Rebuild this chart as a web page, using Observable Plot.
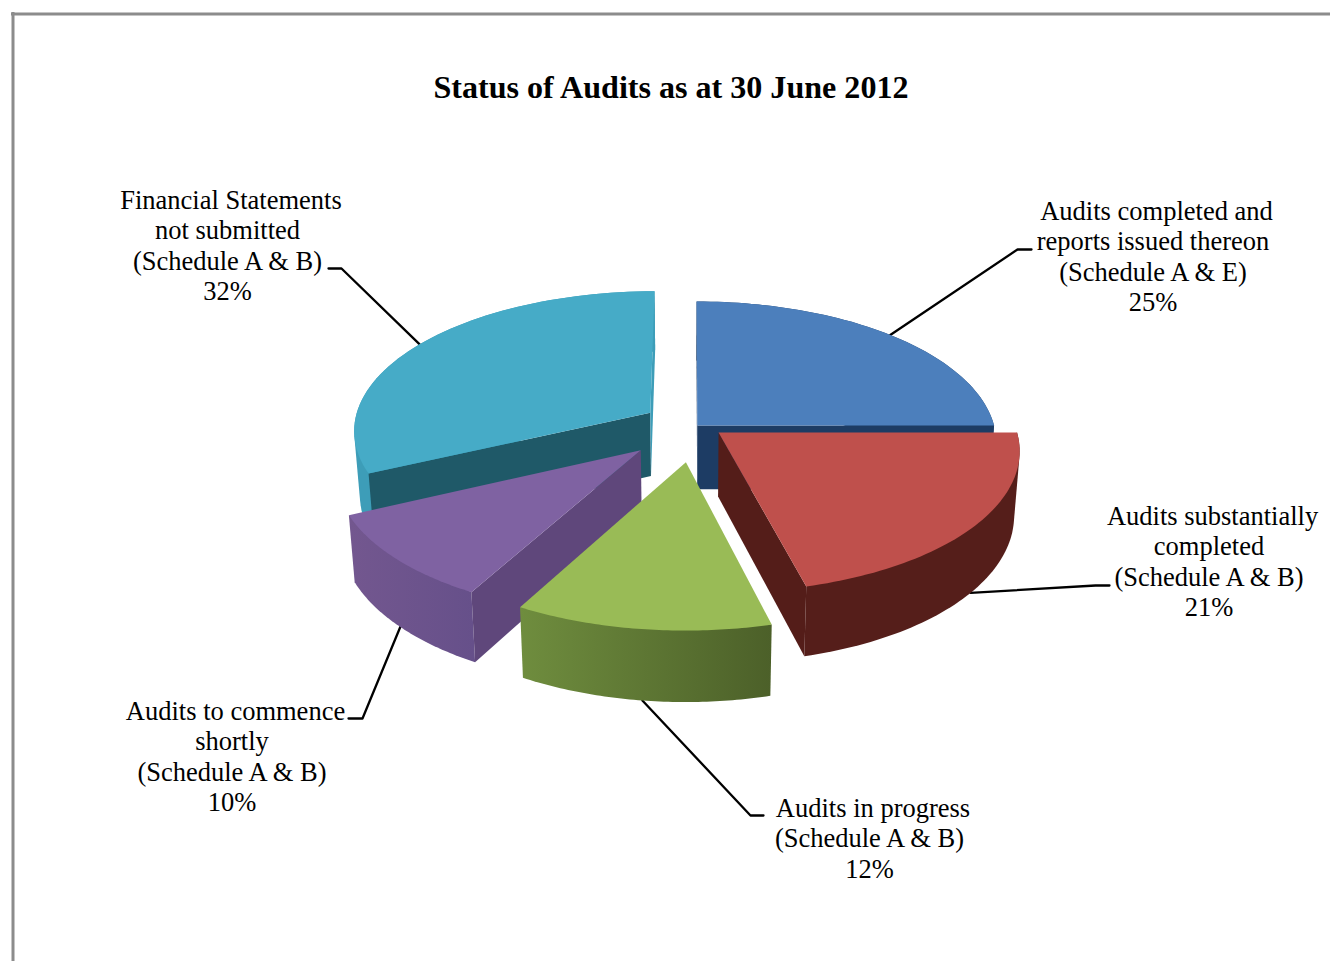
<!DOCTYPE html>
<html>
<head>
<meta charset="utf-8">
<title>Status of Audits</title>
<script src="https://cdn.jsdelivr.net/npm/d3@7"></script>
<script src="https://cdn.jsdelivr.net/npm/@observablehq/plot@0.6"></script>
<style>
  html, body { margin: 0; padding: 0; background: #fff; }
  svg { display: block; }
</style>
</head>
<body>
<div id="chart"></div>
<script>
// Audit status shares, in percent, clockwise from twelve o'clock.
const categories = ["completed", "substantial", "progress", "commence", "notSubmitted"];
const shares = [25, 21, 12, 10, 32];
const labelLines = [
  ["Audits completed and", "reports issued thereon", "(Schedule A & E)", "25%"],
  ["Audits substantially", "completed", "(Schedule A & B)", "21%"],
  ["Audits in progress", "(Schedule A & B)", "12%"],
  ["Audits to commence", "shortly", "(Schedule A & B)", "10%"],
  ["Financial Statements", "not submitted", "(Schedule A & B)", "32%"]
];
const title = "Status of Audits as at 30 June 2012";

// Face colours of each slice.
const topColours = ["#4c7fbc", "#bf504c", "#99bb56", "#7f62a2", "#46abc7"];
const rimColours = ["#1f4069", "#551e1a", "url(#rimGreen)", "url(#rimPurple)", "#3d9db8"];
const cutColours = ["#1d3c64", "#541d19", "#5a7331", "#5f477b", "#1f5968"];

// Layout of the tilted pie: how far each slice is pulled out on the pie's plane,
// in radii, then where its text and leader sit on the page.
const pullX = [0.023, 0.094, -0.015, -0.164, -0.137];
const pullY = [-0.036, 0.014, 0.22, 0.138, -0.129];
const labelCentre = [[1152.5, 210.7], [1208.5, 515.7], [869, 807.7], [231.5, 710.7], [227, 199.7]];
const leaderElbow = [[1017, 249, 1031], [1095, 585, 1109], [750, 815, 763], [362, 718, 348], [341, 268, 328]];

const lineHeight = 30.5;
const pie = {cx: 690, cy: 430, rx: 298, ry: 140, depth: 65, perspective: 0.12, shrink: 0.017};

// Perspective projection of a point on the pie's plane (z 0 = top face, z 1 = underside).
function project(X, Y, z) {
  const f = (1 / (1 - pie.perspective * Y)) * (1 - pie.shrink * z);
  return {x: pie.cx + pie.rx * X * f, y: pie.cy + (pie.ry * Y + pie.depth * z) * f};
}

const toRad = (deg) => (deg * Math.PI) / 180;
const total = d3.sum(shares);
const edges = [0, ...d3.cumsum(shares).map((c) => (c / total) * 360)];

function rimPoint(i, deg, z) {
  const a = toRad(deg);
  return project(pullX[i] + Math.sin(a), pullY[i] - Math.cos(a), z);
}
const apex = (i, z) => project(pullX[i], pullY[i], z);
const arc = (i, z) => d3.range(61).map((k) => rimPoint(i, edges[i] + ((edges[i + 1] - edges[i]) * k) / 60, z));
const asPair = (p) => [p.x, p.y];

// Each slice: the outer wall, whichever cut faces show past the top, then the top face.
function sliceMarks(i) {
  const face = (points, fill) => Plot.line([...points, points[0]], {x: "x", y: "y", fill, stroke: "none"});
  const topFace = [apex(i, 0), ...arc(i, 0)];
  const topOutline = topFace.map(asPair);

  // The hull of both arcs keeps the wall's true silhouette where they cross on screen.
  const rimOutline = d3.polygonHull([...arc(i, 0), ...arc(i, 1)].map(asPair)).map(([x, y]) => ({x, y}));

  // A cut face is seen only if its lower edge falls outside the top face.
  const cuts = [edges[i], edges[i + 1]]
    .map((deg) => ({deg, lowerMid: [(apex(i, 1).x + rimPoint(i, deg, 1).x) / 2, (apex(i, 1).y + rimPoint(i, deg, 1).y) / 2]}))
    .filter((c) => !d3.polygonContains(topOutline, c.lowerMid))
    .map((c) => face([apex(i, 0), rimPoint(i, c.deg, 0), rimPoint(i, c.deg, 1), apex(i, 1)],
      c.deg === 360 ? rimColours[i] : cutColours[i]));

  return [face(rimOutline, rimColours[i]), ...cuts, face(topFace, topColours[i])];
}

// Leader: from the middle of the slice's rim to an elbow, then a short run to the text.
function leaderMark(i) {
  const mid = (edges[i] + edges[i + 1]) / 2;
  const onBack = Math.cos(toRad(mid)) > 0;
  const start = rimPoint(i, mid, onBack ? 0 : 1);
  const [ex, ey, endX] = leaderElbow[i];
  return Plot.line([start, {x: ex, y: ey}, {x: endX, y: ey}], {x: "x", y: "y", stroke: "#000", strokeWidth: 2.3});
}

const textRows = labelLines.flatMap((lines, i) =>
  lines.map((text, n) => ({
    text,
    // the first line of each label sits a little to the right of the rest
    x: labelCentre[i][0] + (n === 0 ? 3.5 : 0),
    y: labelCentre[i][1] + n * lineHeight
  }))
);

// Side-lit walls shade from left to right.
function gradientDefs() {
  const defs = d3.create("svg:defs");
  const add = (id, from, to) => {
    const g = defs.append("linearGradient").attr("id", id).attr("x1", 0).attr("x2", 1).attr("y1", 0).attr("y2", 0);
    g.append("stop").attr("offset", 0).attr("stop-color", from);
    g.append("stop").attr("offset", 1).attr("stop-color", to);
  };
  add("rimGreen", "#6f8d3e", "#4c6029");
  add("rimPurple", "#73578f", "#66508a");
  return defs.node();
}

const paintOrder = [4, 0, 3, 1, 2];

const chart = Plot.plot({
  width: 1330,
  height: 961,
  margin: 0,
  x: {domain: [0, 1330], range: [0, 1330], axis: null},
  y: {domain: [0, 961], range: [0, 961], axis: null},
  style: {background: "#fff", fontFamily: "'Liberation Serif', serif"},
  marks: [
    gradientDefs,
    Plot.ruleY([13.5], {x1: 11, x2: 1330, stroke: "#8c8c8c", strokeWidth: 3}),
    Plot.ruleX([12.5], {y1: 12, y2: 961, stroke: "#8c8c8c", strokeWidth: 3}),
    ...categories.map((_, i) => leaderMark(i)),
    ...paintOrder.flatMap(sliceMarks),
    Plot.text([title], {
      x: () => 670.5, y: () => 87.5, text: (d) => d,
      fontSize: 32.1, fontWeight: "bold", fill: "#000", lineAnchor: "middle"
    }),
    Plot.text(textRows, {x: "x", y: "y", text: "text", fontSize: 26.5, fill: "#000", lineAnchor: "middle"})
  ]
});
document.getElementById("chart").append(chart);
</script>
</body>
</html>
